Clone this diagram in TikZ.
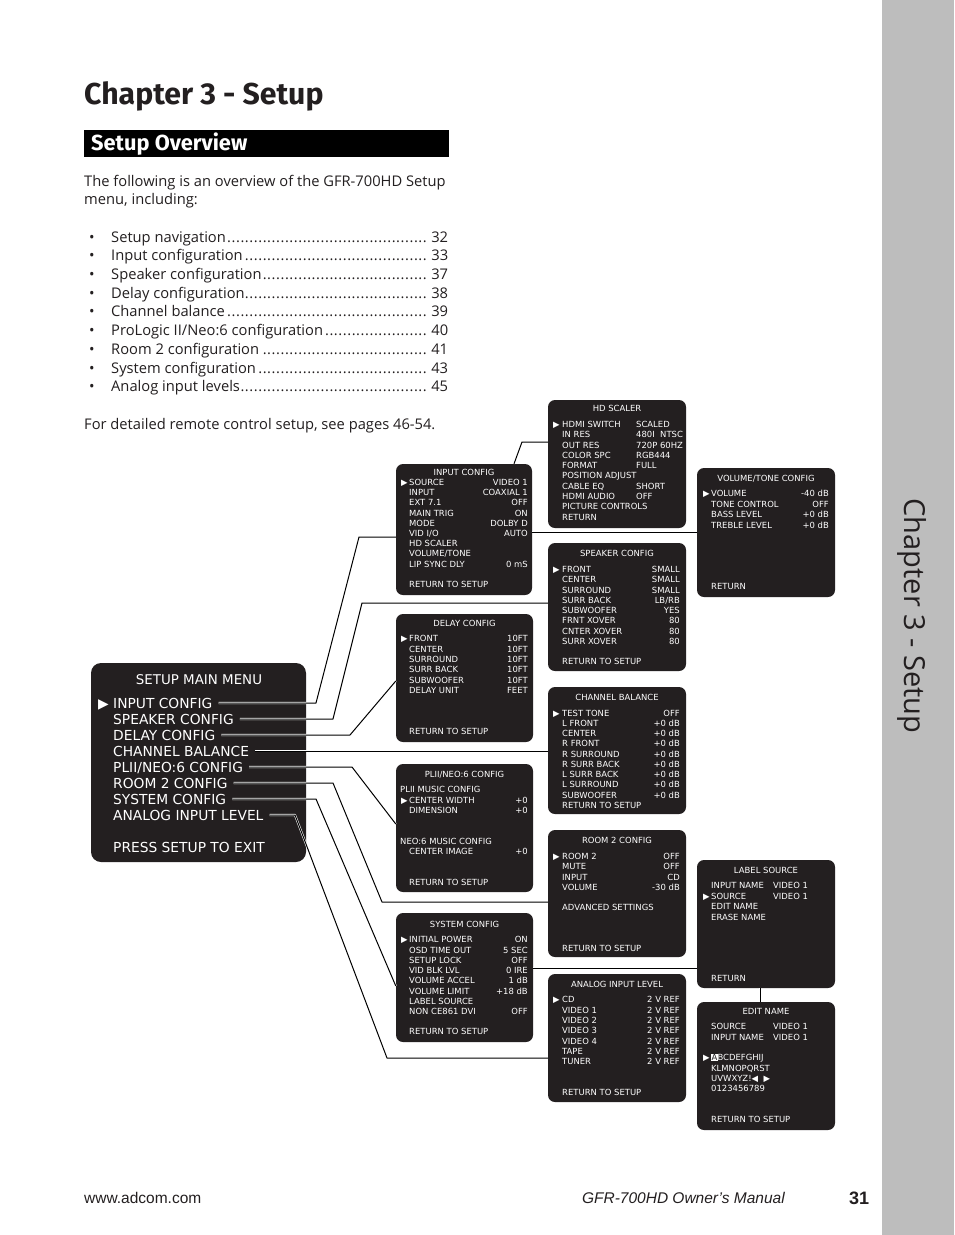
\documentclass[tikz,border=0pt]{standalone}
\usepackage{fontspec}
\usetikzlibrary{positioning, calc}
\setmainfont{Open Sans}
\newfontfamily\osdfont{DejaVu Sans}
\newfontfamily\headfont{Fira Sans}
\newfontfamily\footfont{Liberation Sans}
\definecolor{osdblack}{HTML}{231F20}
\definecolor{tabgray}{HTML}{BDBDBD}
\definecolor{ink}{HTML}{231F20}
\newcommand{\tocline}[2]{\hbox to 22pt{\textbullet\hss}\hbox to 337pt{#1\leaders\hbox to 4.45pt{\hss.\hss}\hfill\,#2}}

\begin{document}
\begin{tikzpicture}[x=1pt, y=-1pt,
  osdbox/.style = {fill=osdblack, rounded corners=7pt, inner sep=0pt},
  osd/.style = {text=white, font=\osdfont\fontsize{8.45}{10}\selectfont, inner sep=0pt, text height=6.1pt, text depth=0pt},
  osdbig/.style = {text=white, font=\osdfont\fontsize{13.8}{16}\selectfont, inner sep=0pt, text height=10pt, text depth=0pt},
  body/.style = {text=ink, font=\fontsize{14.7}{18}\selectfont, inner sep=0pt, anchor=base west},
  link/.style = {draw=white, double=black, line width=0.55pt, double distance=1pt, line join=round},
]

\fill[white] (0,0) rectangle (954,1235);
\useasboundingbox (0,0) rectangle (954,1235);

% side tab
\node[fill=tabgray, minimum width=72pt, minimum height=1235pt, inner sep=0pt, anchor=north west] (tab) at (882,0) {};
\node[rotate=-90, font=\fontsize{29}{34}\selectfont, text=ink, inner sep=0pt] (tabtitle) at (912,616) {Chapter 3 - Setup};

% heading
\node[font=\headfont\bfseries\fontsize{30.2}{34}\selectfont, text=ink, inner sep=0pt, anchor=base west] (chapter) at (84,104) {Chapter 3 - Setup};
\node[fill=black, minimum width=365pt, minimum height=27pt, inner sep=0pt, anchor=north west] (ovbar) at (84,130) {};
\node[font=\headfont\bfseries\fontsize{21.8}{24}\selectfont, text=white, inner sep=0pt, anchor=base west] (overview) at (91,150) {Setup Overview};

% intro text
\node[body] (intro1) at (84,186) {The following is an overview of the GFR-700HD Setup};
\node[body] (intro2) at (84,204.5) {menu, including:};
\foreach \y/\entry/\pg [count=\i] in {242/Setup navigation/32, 260.5/Input configuration/33,
    279/Speaker configuration/37, 298/Delay configuration/38, 316.5/Channel balance/39,
    335/{ProLogic II/Neo:6 configuration}/40, 354/Room 2 configuration/41,
    373/System configuration/43, 391.5/Analog input levels/45}
  \node[body] (toc-\i) at (89,\y) {\tocline{\entry}{\pg}};
\node[body] (remote) at (84,429) {For detailed remote control setup, see pages 46-54.};

% footer
\node[font=\footfont\fontsize{15.5}{18}\selectfont, text=ink, inner sep=0pt, anchor=base west] (url) at (84,1203) {www.adcom.com};
\node[font=\footfont\itshape\fontsize{15.5}{18}\selectfont, text=ink, inner sep=0pt, anchor=base east] (manual) at (785,1203) {GFR-700HD Owner’s Manual};
\node[font=\footfont\bfseries\fontsize{18}{20}\selectfont, text=ink, inner sep=0pt, anchor=base west] (pageno) at (849,1204) {31};

% SETUP MAIN MENU
\node[osdbox, rounded corners=10pt, minimum width=215pt, minimum height=199pt] (mainmenu) at (198.5,762.5) {};
\node[osdbig, font=\osdfont\fontsize{13.4}{15}\selectfont] (main-t) at (199,679) {SETUP MAIN MENU};
\node[osdbig, anchor=west] (main-a) at (98,703) {▶};
\foreach \y/\lab [count=\i] in {703/INPUT CONFIG, 719/SPEAKER CONFIG, 735/DELAY CONFIG,
    751/CHANNEL BALANCE, 767/{PLII/NEO:6 CONFIG}, 783/ROOM 2 CONFIG,
    799/SYSTEM CONFIG, 815/ANALOG INPUT LEVEL}
  \node[osdbig, anchor=west] (m\i) at (113,\y) {\lab};
\node[osdbig, anchor=west] (mexit) at (113,847) {PRESS SETUP TO EXIT};

% INPUT CONFIG
\node[osdbox, minimum width=136pt, minimum height=131pt] (input) at (464,529.5) {};
\node[osd] (input-t) at (464,472) {INPUT CONFIG};
\node[osd, anchor=west] (input-a) at (401,482) {▶};
\foreach \y/\lab/\val [count=\i] in {482/SOURCE/VIDEO 1, 492/INPUT/COAXIAL 1, 502.5/EXT 7.1/OFF,
    513/MAIN TRIG/ON, 523/MODE/DOLBY D, 533/{VID I/O}/AUTO, 543/HD SCALER/, 553/{VOLUME/TONE}/,
    564/LIP SYNC DLY/0 mS, 584/RETURN TO SETUP/}{
  \node[osd, anchor=west] (input-\i) at (409,\y) {\lab};
  \node[osd, anchor=east] (input-v\i) at (528,\y) {\val};
}

% HD SCALER
\node[osdbox, minimum width=138pt, minimum height=128pt] (hdscaler) at (617,464) {};
\node[osd] (hd-t) at (617,408.5) {HD SCALER};
\node[osd, anchor=west] (hd-a) at (553,424) {▶};
\foreach \y/\lab/\val [count=\i] in {424/HDMI SWITCH/SCALED, 434.5/IN RES/480I\ \ NTSC,
    445/OUT RES/720P 60HZ, 455/COLOR SPC/RGB444, 465/FORMAT/FULL, 475.5/POSITION ADJUST/,
    486/CABLE EQ/SHORT, 496/HDMI AUDIO/OFF, 506/PICTURE CONTROLS/, 517/RETURN/}{
  \node[osd, anchor=west] (hd-\i) at (562,\y) {\lab};
  \node[osd, anchor=west] (hd-v\i) at (636,\y) {\val};
}

% VOLUME/TONE CONFIG
\node[osdbox, minimum width=138pt, minimum height=129pt] (volume) at (766,532.5) {};
\node[osd] (vol-t) at (766,478.5) {VOLUME/TONE CONFIG};
\node[osd, anchor=west] (vol-a) at (703,493) {▶};
\foreach \y/\lab/\val [count=\i] in {493/VOLUME/-40 dB, 504/TONE CONTROL/OFF,
    514.5/BASS LEVEL/+0 dB, 525/TREBLE LEVEL/+0 dB, 586/RETURN/}{
  \node[osd, anchor=west] (vol-\i) at (711,\y) {\lab};
  \node[osd, anchor=east] (vol-v\i) at (829,\y) {\val};
}

% SPEAKER CONFIG
\node[osdbox, minimum width=138pt, minimum height=128pt] (speaker) at (617,607) {};
\node[osd] (spk-t) at (617,553) {SPEAKER CONFIG};
\node[osd, anchor=west] (spk-a) at (553,569) {▶};
\foreach \y/\lab/\val [count=\i] in {569/FRONT/SMALL, 579.5/CENTER/SMALL, 590/SURROUND/SMALL,
    600/SURR BACK/{LB/RB}, 610/SUBWOOFER/YES, 620.5/FRNT XOVER/80, 631/CNTER XOVER/80,
    641/SURR XOVER/80, 661/RETURN TO SETUP/}{
  \node[osd, anchor=west] (spk-\i) at (562,\y) {\lab};
  \node[osd, anchor=east] (spk-v\i) at (680,\y) {\val};
}

% DELAY CONFIG
\node[osdbox, minimum width=137pt, minimum height=128pt] (delay) at (464.5,678) {};
\node[osd] (dly-t) at (464.5,623.5) {DELAY CONFIG};
\node[osd, anchor=west] (dly-a) at (401,638.5) {▶};
\foreach \y/\lab/\val [count=\i] in {638.5/FRONT/10FT, 649/CENTER/10FT, 659/SURROUND/10FT,
    669.5/SURR BACK/10FT, 680/SUBWOOFER/10FT, 690.5/DELAY UNIT/FEET, 731.5/RETURN TO SETUP/}{
  \node[osd, anchor=west] (dly-\i) at (409,\y) {\lab};
  \node[osd, anchor=east] (dly-v\i) at (528,\y) {\val};
}

% CHANNEL BALANCE
\node[osdbox, minimum width=138pt, minimum height=127pt] (balance) at (617,750.5) {};
\node[osd] (bal-t) at (617,697.5) {CHANNEL BALANCE};
\node[osd, anchor=west] (bal-a) at (553,713) {▶};
\foreach \y/\lab/\val [count=\i] in {713/TEST TONE/OFF, 723/L FRONT/+0 dB, 733.5/CENTER/+0 dB,
    743.5/R FRONT/+0 dB, 754/R SURROUND/+0 dB, 764/R SURR BACK/+0 dB, 774/L SURR BACK/+0 dB,
    784.5/L SURROUND/+0 dB, 795/SUBWOOFER/+0 dB, 805/RETURN TO SETUP/}{
  \node[osd, anchor=west] (bal-\i) at (562,\y) {\lab};
  \node[osd, anchor=east] (bal-v\i) at (680,\y) {\val};
}

% PLII/NEO:6 CONFIG
\node[osdbox, minimum width=137pt, minimum height=128pt] (plii) at (464.5,828) {};
\node[osd] (pl-t) at (464.5,774.5) {PLII/NEO:6 CONFIG};
\node[osd, anchor=west] (pl-h1) at (400,789.5) {PLII MUSIC CONFIG};
\node[osd, anchor=west] (pl-h2) at (400,841) {NEO:6 MUSIC CONFIG};
\node[osd, anchor=west] (pl-a) at (401,800) {▶};
\foreach \y/\lab/\val [count=\i] in {800/CENTER WIDTH/+0, 810/DIMENSION/+0,
    851.5/CENTER IMAGE/+0, 882/RETURN TO SETUP/}{
  \node[osd, anchor=west] (pl-\i) at (409,\y) {\lab};
  \node[osd, anchor=east] (pl-v\i) at (528,\y) {\val};
}

% ROOM 2 CONFIG
\node[osdbox, minimum width=138pt, minimum height=127pt] (room2) at (617,893.5) {};
\node[osd] (rm-t) at (617,840.5) {ROOM 2 CONFIG};
\node[osd, anchor=west] (rm-a) at (553,856) {▶};
\foreach \y/\lab/\val [count=\i] in {856/ROOM 2/OFF, 866.5/MUTE/OFF, 877/INPUT/CD,
    887/VOLUME/-30 dB, 907.5/ADVANCED SETTINGS/, 948/RETURN TO SETUP/}{
  \node[osd, anchor=west] (rm-\i) at (562,\y) {\lab};
  \node[osd, anchor=east] (rm-v\i) at (680,\y) {\val};
}

% SYSTEM CONFIG
\node[osdbox, minimum width=137pt, minimum height=129pt] (system) at (464.5,977.5) {};
\node[osd] (sys-t) at (464.5,924) {SYSTEM CONFIG};
\node[osd, anchor=west] (sys-a) at (401,939.5) {▶};
\foreach \y/\lab/\val [count=\i] in {939.5/INITIAL POWER/ON, 950/OSD TIME OUT/5 SEC,
    960/SETUP LOCK/OFF, 970/VID BLK LVL/0 IRE, 980.5/VOLUME ACCEL/1 dB, 991/VOLUME LIMIT/+18 dB,
    1001/LABEL SOURCE/, 1011/NON CE861 DVI/OFF, 1031.5/RETURN TO SETUP/}{
  \node[osd, anchor=west] (sys-\i) at (409,\y) {\lab};
  \node[osd, anchor=east] (sys-v\i) at (528,\y) {\val};
}

% ANALOG INPUT LEVEL
\node[osdbox, minimum width=138pt, minimum height=128pt] (analog) at (617,1038) {};
\node[osd] (an-t) at (617,984.5) {ANALOG INPUT LEVEL};
\node[osd, anchor=west] (an-a) at (553,999.5) {▶};
\foreach \y/\lab [count=\i] in {999.5/CD, 1010/VIDEO 1, 1020/VIDEO 2, 1030.5/VIDEO 3,
    1041/VIDEO 4, 1051/TAPE, 1061/TUNER}{
  \node[osd, anchor=west] (an-\i) at (562,\y) {\lab};
  \node[osd, anchor=east] (an-v\i) at (680,\y) {2 V REF};
}
\node[osd, anchor=west] (an-ret) at (562,1092) {RETURN TO SETUP};

% LABEL SOURCE
\node[osdbox, minimum width=138pt, minimum height=128pt] (label) at (766,924) {};
\node[osd] (lab-t) at (766,870.5) {LABEL SOURCE};
\node[osd, anchor=west] (lab-a) at (703,896) {▶};
\foreach \y/\lab/\val [count=\i] in {885.5/INPUT NAME/VIDEO 1, 896/SOURCE/VIDEO 1,
    906.5/EDIT NAME/, 917/ERASE NAME/, 978/RETURN/}{
  \node[osd, anchor=west] (lab-\i) at (711,\y) {\lab};
  \node[osd, anchor=west] (lab-v\i) at (773,\y) {\val};
}

% EDIT NAME
\node[osdbox, minimum width=138pt, minimum height=128pt] (editname) at (766,1066) {};
\node[osd] (ed-t) at (766,1011.5) {EDIT NAME};
\node[osd, anchor=west] (ed-1) at (711,1026.5) {SOURCE};
\node[osd, anchor=west] (ed-v1) at (773,1026.5) {VIDEO 1};
\node[osd, anchor=west] (ed-2) at (711,1037) {INPUT NAME};
\node[osd, anchor=west] (ed-v2) at (773,1037) {VIDEO 1};
\node[osd, anchor=west] (ed-a) at (703,1057.5) {▶};
\node[osd, anchor=west] (ed-3) at (711,1057.5) {{\setlength{\fboxsep}{0.3pt}\colorbox{white}{\textcolor{osdblack}{A}}}BCDEFGHIJ};
\node[osd, anchor=west] (ed-4) at (711,1068) {KLMNOPQRST};
\node[osd, anchor=west] (ed-5) at (711,1078) {UVWXYZ!◀\ \ ▶};
\node[osd, anchor=west] (ed-6) at (711,1088.5) {0123456789};
\node[osd, anchor=west] (ed-7) at (711,1119) {RETURN TO SETUP};

% bend points of the connectors
\coordinate (k1a) at (316,703);  \coordinate (k1b) at (359,537);
\coordinate (k2a) at (333,719);  \coordinate (k2b) at (362,603);
\coordinate (k3a) at (350,735);  \coordinate (k3b) at (396,681);
\coordinate (k5a) at (352,767);  \coordinate (k5b) at (396,824);
\coordinate (k6a) at (333,783);  \coordinate (k6b) at (382,902);
\coordinate (k7a) at (316,799);  \coordinate (k7b) at (396,986);
\coordinate (k8a) at (295,815);  \coordinate (k8b) at (387,1058);
\coordinate (k9a) at (514,464);  \coordinate (k9b) at (522,442);
\coordinate (k10) at (0,532);    \coordinate (k11) at (0,968);

%--- main menu -> sub menus ---
\draw[link] ([xshift=6pt]m1.east) -- (k1a) -- (k1b) -- (k1b -| input.west);
\draw[link] ([xshift=6pt]m2.east) -- (k2a) -- (k2b) -- (k2b -| speaker.west);
\draw[link] ([xshift=6pt]m3.east) -- (k3a) -- (delay.west |- k3b);
\draw[link] ([xshift=6pt]m4.east) -- (m4 -| balance.west);
\draw[link] ([xshift=6pt]m5.east) -- (k5a) -- (plii.west |- k5b);
\draw[link] ([xshift=6pt]m6.east) -- (k6a) -- (k6b) -- (k6b -| room2.west);
\draw[link] ([xshift=6pt]m7.east) -- (k7a) -- (system.west |- k7b);
\draw[link] ([xshift=6pt]m8.east) -- (k8a) -- (k8b) -- (k8b -| analog.west);

%--- input config -> hd scaler, volume/tone ---
\draw[link] (input.north -| k9a) -- (k9b) -- (k9b -| hdscaler.west);
\draw[link] (input.east |- k10) -- (volume.west |- k10);

%--- system config -> label source -> edit name ---
\draw[link] (system.east |- k11) -- (label.west |- k11);
\draw[link] ([xshift=-6pt]label.south) -- ([xshift=-6pt]editname.north);

\end{tikzpicture}
\end{document}
